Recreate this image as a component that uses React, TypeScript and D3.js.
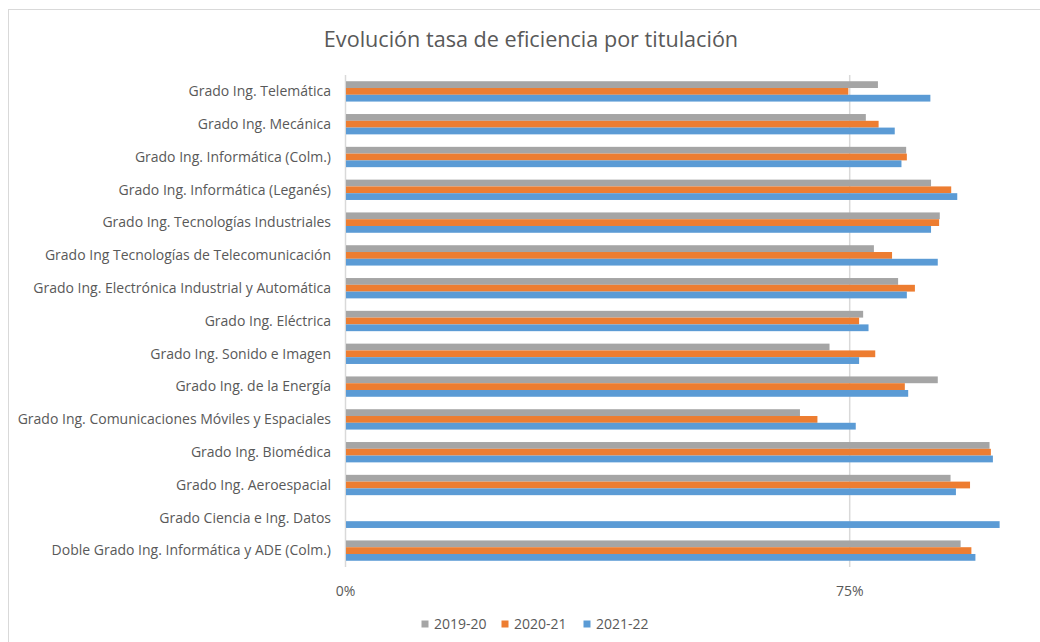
import React from "react";
import * as d3 from "d3";

const categories = [
  "Grado Ing. Telemática",
  "Grado Ing. Mecánica",
  "Grado Ing. Informática (Colm.)",
  "Grado Ing. Informática (Leganés)",
  "Grado Ing. Tecnologías Industriales",
  "Grado Ing Tecnologías de Telecomunicación",
  "Grado Ing. Electrónica Industrial y Automática",
  "Grado Ing. Eléctrica",
  "Grado Ing. Sonido e Imagen",
  "Grado Ing. de la Energía",
  "Grado Ing. Comunicaciones Móviles y Espaciales",
  "Grado Ing. Biomédica",
  "Grado Ing. Aeroespacial",
  "Grado Ciencia e Ing. Datos",
  "Doble Grado Ing. Informática y ADE (Colm.)",
];

const s2019: (number | null)[] = [79.2, 77.4, 83.4, 87.1, 88.4, 78.6, 82.2, 77.0, 72.0, 88.1, 67.6, 95.8, 90.0, null, 91.5];
const s2020: (number | null)[] = [74.8, 79.3, 83.5, 90.1, 88.3, 81.3, 84.7, 76.4, 78.8, 83.2, 70.2, 96.0, 92.9, null, 93.1];
const s2021: (number | null)[] = [87.0, 81.7, 82.7, 91.0, 87.1, 88.1, 83.5, 77.8, 76.4, 83.7, 75.9, 96.3, 90.8, 97.3, 93.7];

const seriesNames = ["2019-20", "2020-21", "2021-22"];
const seriesColors = ["#A5A5A5", "#ED7D31", "#5B9BD5"];
const xTicks = [0, 75];

const W = 1040;
const H = 642;
const FONT = "Open Sans, Calibri, sans-serif";

export default function App() {
  const series = [s2019, s2020, s2021];
  const x = d3.scaleLinear().domain([0, 75]).range([345.5, 849.7]);
  const y = d3.scaleBand<string>().domain(categories).range([75, 567]).paddingInner(0.38).paddingOuter(0.19);
  const inner = d3.scaleBand<string>().domain(seriesNames).range([0, y.bandwidth()]);
  const legendX = [425, 505, 587];

  return (
    <svg width={W} height={H} style={{ position: "absolute", left: 0, top: 0, background: "#fff" }} fontFamily={FONT}>
      <rect x={0} y={0} width={W} height={H} fill="#fff" />
      <rect x={8.5} y={9.5} width={W + 10} height={H + 10} fill="none" stroke="#d9d9d9" strokeWidth={1} />
      <text x={531} y={47} textAnchor="middle" fontSize={21.6} fill="#595959">
        Evolución tasa de eficiencia por titulación
      </text>
      {xTicks.filter((t) => t !== 0).map((t) => (
        <line key={t} x1={x(t)} x2={x(t)} y1={75} y2={567} stroke="#d9d9d9" strokeWidth={1.5} />
      ))}
      <line x1={x(0)} x2={x(0)} y1={75} y2={567} stroke="#d9d9d9" strokeWidth={1.5} />
      {categories.map((c, i) => (
        <g key={c} transform={`translate(0,${y(c)})`}>
          {series.map((s, j) => {
            const v = s[i];
            if (v == null) return null;
            return (
              <rect
                key={j}
                x={x(0) + 0.5}
                y={inner(seriesNames[j])}
                width={x(v) - x(0) - 0.5}
                height={inner.bandwidth()}
                fill={seriesColors[j]}
              />
            );
          })}
          <text x={331} y={y.bandwidth() / 2} dy="0.35em" textAnchor="end" fontSize={14} fill="#595959">
            {c}
          </text>
        </g>
      ))}
      {xTicks.map((t) => (
        <text key={t} x={x(t)} y={591} dy="0.35em" textAnchor="middle" fontSize={14} fill="#595959">
          {t}%
        </text>
      ))}
      {seriesNames.map((n, j) => (
        <g key={n} transform={`translate(${legendX[j]},624)`}>
          <rect x={-3.5} y={-3.5} width={7} height={7} fill={seriesColors[j]} />
          <text x={9} y={0} dy="0.35em" fontSize={14} fill="#595959">
            {n}
          </text>
        </g>
      ))}
    </svg>
  );
}
